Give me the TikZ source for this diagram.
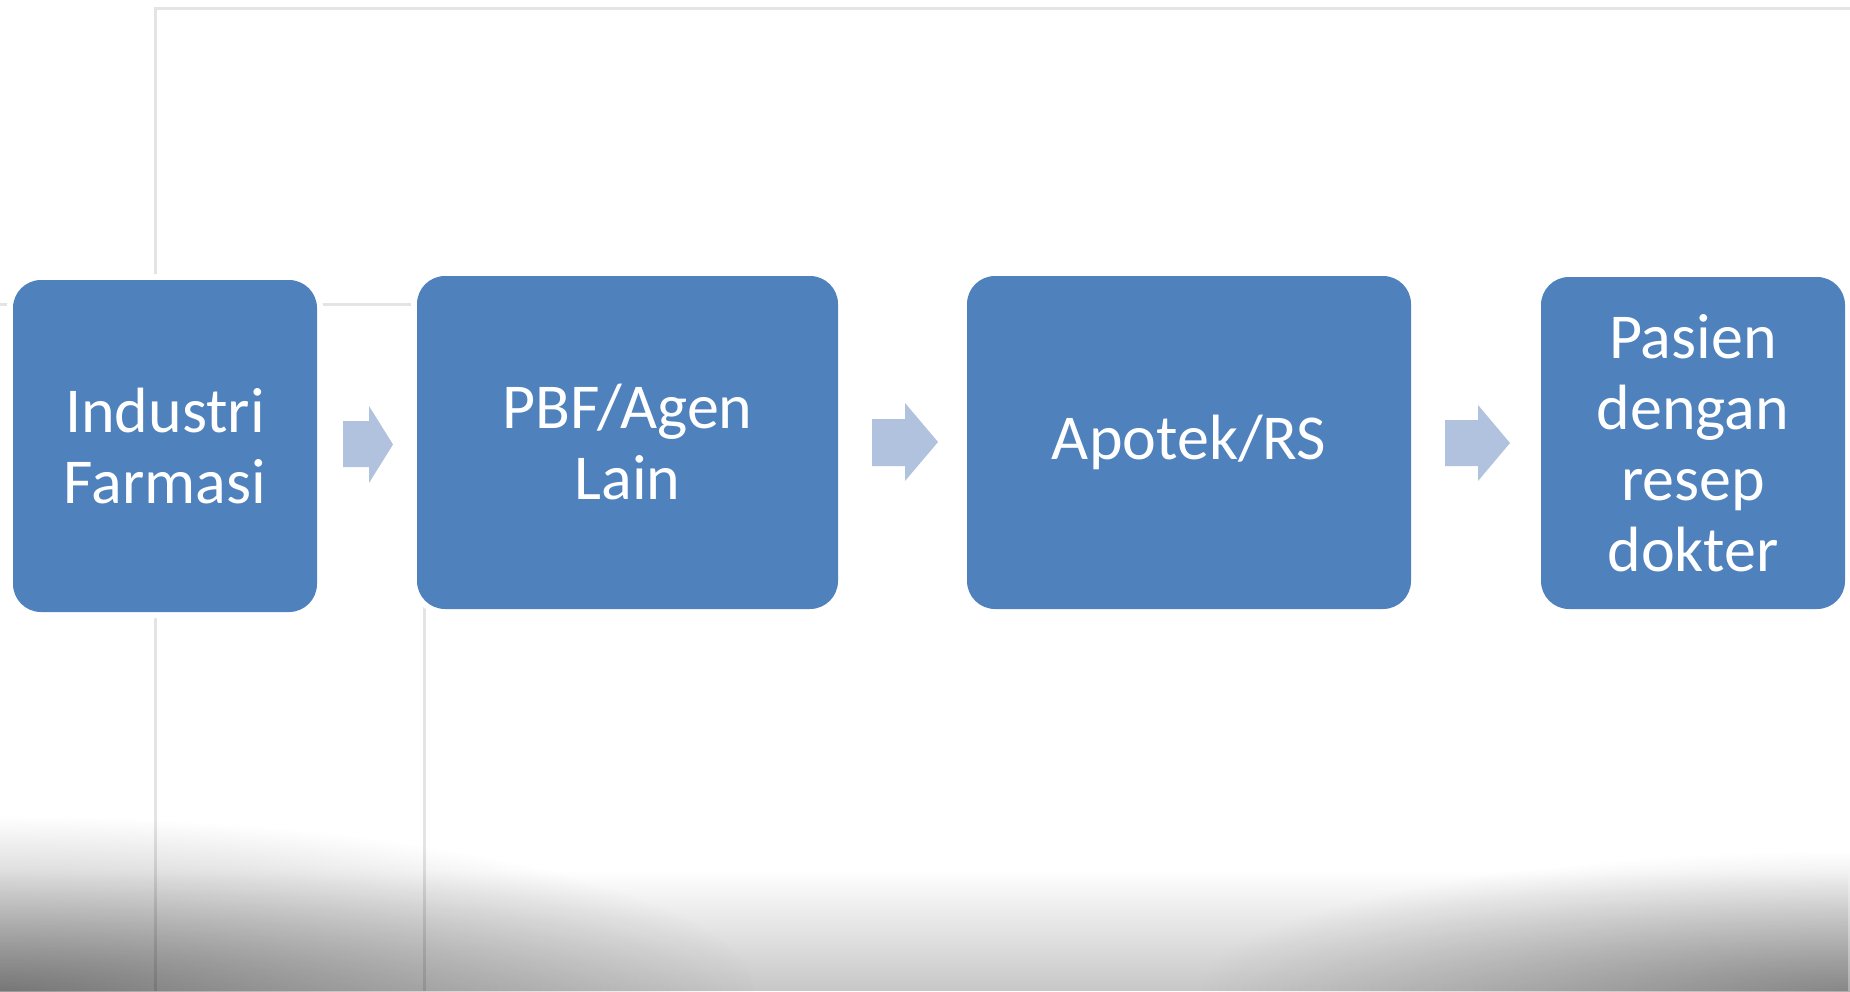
\documentclass[tikz,border=0pt]{standalone}
\usepackage{fontspec}
\setmainfont{Carlito}
\usetikzlibrary{fadings}
\definecolor{boxblue}{HTML}{4F81BD}
\definecolor{arrowblue}{HTML}{B1C2DE}
\definecolor{linegrey}{HTML}{E4E4E4}
\tikzfading[name=bandfade, top color=transparent!100, middle color=transparent!96, bottom color=transparent!78]
\tikzfading[name=leftcornerfade, inner color=transparent!60, outer color=transparent!100]
\tikzfading[name=rightcornerfade, inner color=transparent!68, outer color=transparent!100]
\begin{document}
\begin{tikzpicture}[x=1pt,y=-1pt,
  stepbox/.style={rectangle, rounded corners=28pt, fill=boxblue, text=white, align=center,
    font=\fontsize{64}{71}\selectfont, inner sep=0pt, preaction={draw=white, line width=12pt}},
  greyline/.style={draw=linegrey, line width=3pt},
  blockarrow/.style={fill=arrowblue}]
\fill[white] (0,0) rectangle (1850,991);
\useasboundingbox (0,0) rectangle (1850,991);
% background grid lines
\draw[greyline] (155,991) -- (155,8.5) -- (1850,8.5);
\draw[greyline] (0,304) -- (424,304) -- (424,991);
% bottom shadow
\fill[black, path fading=bandfade] (0,870) rectangle (1850,991);
\fill[black, path fading=leftcornerfade] (0,991) ellipse [x radius=760pt, y radius=175pt];
\fill[black, path fading=rightcornerfade] (1850,991) ellipse [x radius=650pt, y radius=140pt];
% boxes
\node[stepbox, minimum width=304pt, minimum height=332pt] (n1) at (165,446) {Industri\\Farmasi};
\node[stepbox, minimum width=421pt, minimum height=333pt] (n2) at (627.5,442.5) {PBF/Agen\\Lain};
\node[stepbox, minimum width=444pt, minimum height=333pt] (n3) at (1189,442.5) {Apotek/RS};
\node[stepbox, minimum width=304pt, minimum height=332pt] (n4) at (1693,443) {Pasien\\dengan\\resep\\dokter};
% block arrows
\fill[blockarrow] (343,421) -- (369,421) -- (369,406) -- (393,444.5) -- (369,483) -- (369,467) -- (343,467) -- cycle;
\fill[blockarrow] (872,419) -- (905,419) -- (905,403) -- (938,442) -- (905,481) -- (905,466) -- (872,466) -- cycle;
\fill[blockarrow] (1445,420) -- (1478,420) -- (1478,405) -- (1510,443) -- (1478,481) -- (1478,466) -- (1445,466) -- cycle;
\end{tikzpicture}
\end{document}
